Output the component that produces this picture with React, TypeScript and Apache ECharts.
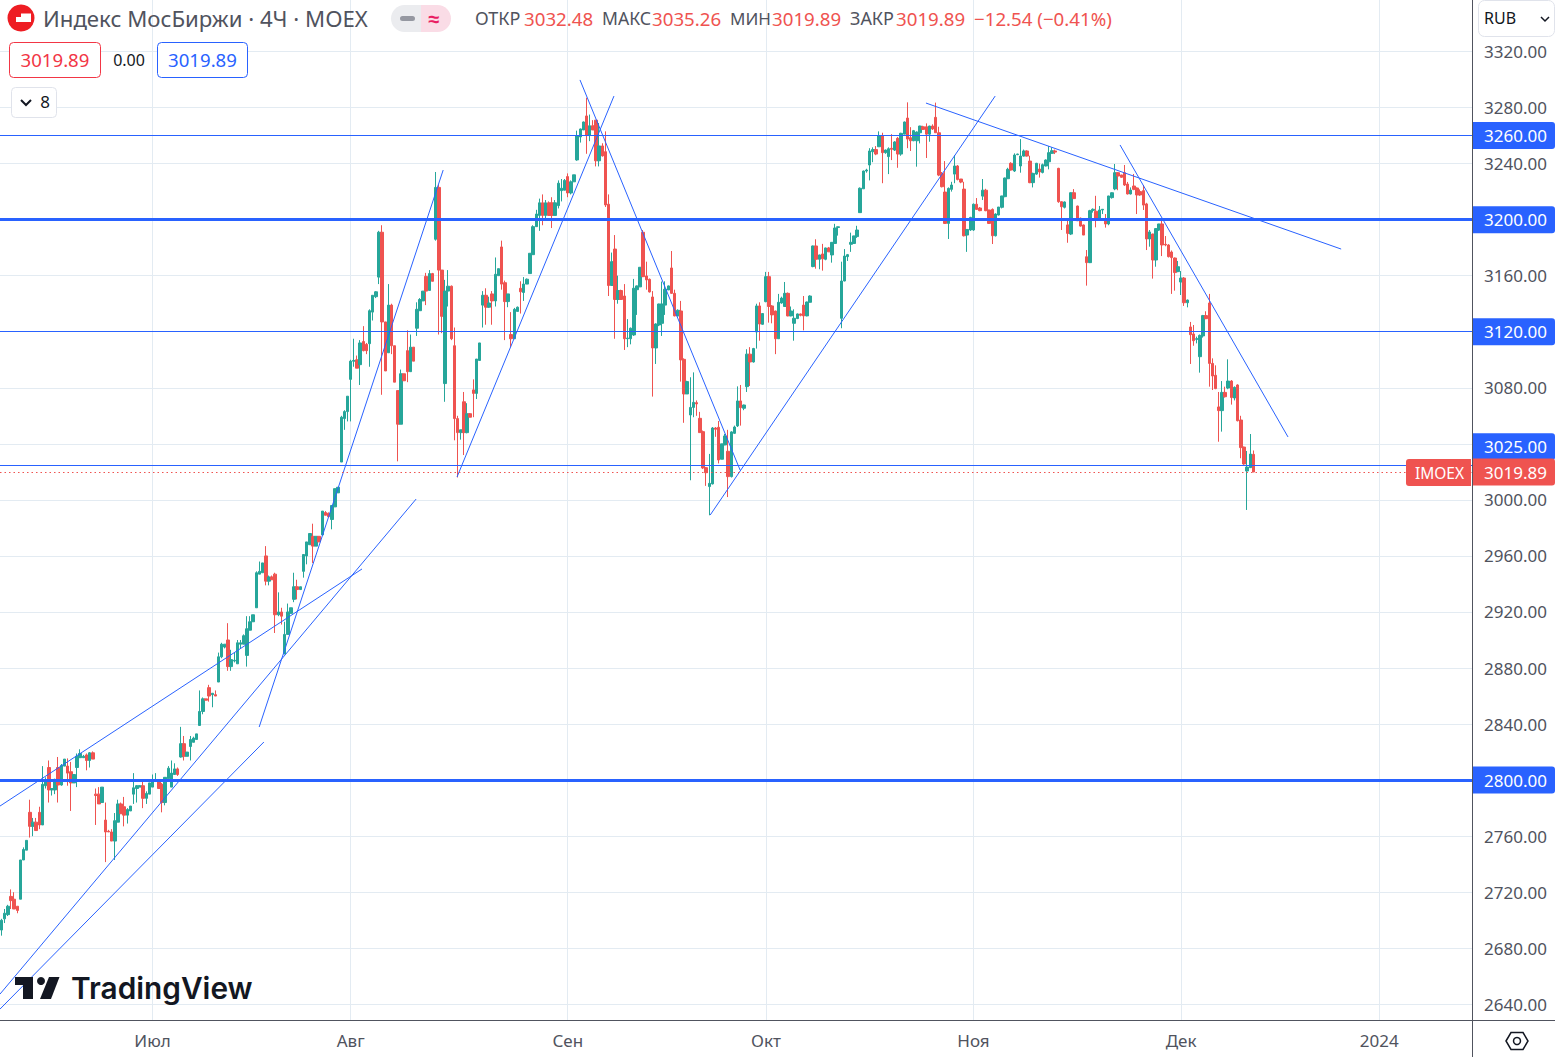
import React, { useEffect, useRef } from "react";
import * as echarts from "echarts";

// [open, close, low, high]
const juneCandles = [
[2693,2700,2689,2701],[2701,2705,2698,2708],[2704,2710,2703,2711],[2717,2714,2708,2722],[2715,2708,2708,2720],[2710,2707,2705,2710],[2715,2743,2715,2743],[2743,2750.5,2743,2752],[2750,2757,2750,2757],[2777,2767,2759,2786],
[2767,2770,2760,2773],[2770,2764,2764,2773],[2777,2768,2765,2781],[2768,2797,2768,2810],[2796,2800,2794,2802],[2809,2793,2784,2814],[2793,2794,2789,2794],[2793,2800.5,2790,2801],[2809,2796.5,2784,2816.5],[2796.5,2810.5,2796,2811.5],
[2810,2815,2810,2815],[2810,2805,2796,2815.5],[2806,2798,2778,2813],[2798,2804,2798,2804],[2809,2817,2795,2819],[2816,2819,2816,2822],[2816,2817,2816,2818],[2818,2814,2807,2819],[2814,2819.5,2809,2820],[2819.5,2815,2815,2820.5],
[2790,2789,2768,2794],[2790,2783,2783,2795],[2784,2795,2784,2795],[2771.5,2763,2741.5,2784],[2763.5,2763,2763,2764.5],[2763,2756.5,2756.5,2765],[2756.5,2771,2743,2776.5],[2770,2783,2770,2786],[2783,2776,2776,2784],[2781,2775,2767,2788],
[2775,2779,2769,2780],[2778,2781.5,2778,2781.5],[2790,2794.5,2783,2805],[2794,2796,2784,2796.5],[2795,2796,2795,2796.5],[2796,2787,2780,2800],[2787,2790.5,2783,2792],[2790,2798,2790,2798],
];
const julyCandles = [
[2795,2799,2795,2804],[2799,2800,2799,2805],[2800,2794,2794,2800],[2797,2784,2777,2798],[2784,2802,2782,2802],[2801,2808.5,2801,2810],[2795,2805,2795,2814],[2804,2808,2804,2812],[2808,2804,2803,2809],[2816.5,2826,2816,2838],
[2826,2817,2814,2831.5],[2817,2820,2817,2820],[2824,2829,2814,2831.5],[2827,2830,2827,2831],[2829,2833,2829,2833],[2839,2849,2839,2864],[2849,2858,2847,2859],[2858,2857,2857,2858],[2866,2860,2856,2868],[2861,2862,2852,2862],
[2861,2860,2860,2864],[2870,2888,2870,2891],[2888,2897,2887,2898],[2895,2897,2894,2897],[2900,2881,2878,2912],[2881,2886,2878,2893],[2885,2885.5,2884,2891],[2883,2898,2883,2900],[2897,2898,2894,2900],[2897,2903,2897,2904],
[2889,2908,2881,2917],[2907,2913,2907,2917],[2913,2918,2913,2918],[2923,2948,2923,2949],[2947,2949,2947,2956],[2948,2955,2948,2955],[2960,2942,2939,2967],[2942,2945,2939,2946],[2945,2943,2943,2946],[2947,2918,2905,2948],
[2918,2920,2917,2934],[2920,2917,2911,2923],[2890,2904,2890,2913],[2904,2920,2904,2926],[2919,2923,2919,2923],[2929,2938,2927,2948],[2938,2936,2929,2943],[2936,2938,2936,2938],[2949,2961,2944.5,2961],[2960,2970,2954,2970],
[2968,2976,2968,2976],[2974,2967,2955,2983],[2967,2974,2967,2974],[2974,2970,2970,2974],[2975,2992,2975,2992],[2991,2989,2989,2992],[2990.5,2988,2988,2991],[2986,2996,2979,2996],[2995,3008,2995,3008],[3005,3009,3005,3009],
[3027,3059,3027,3060],[3058,3063,3050,3064],[3063,3074,3056,3074],
];
const augustCandles = [
[3086,3099,3056,3100],[3099,3099.5,3095,3115],[3100,3094,3094,3103],[3096.5,3112,3082,3114],[3113,3106.5,3106,3124],[3111,3106.5,3104,3112],[3111.5,3135,3095,3136],[3134,3146,3128,3146],[3145,3148.5,3144,3149],[3159,3191,3154,3192],
[3191,3127,3075,3196],[3127,3092,3092,3127],[3105,3139,3105,3154],[3139,3110,3104,3140],[3110,3084,3084,3110],[3078,3054,3027.5,3078],[3054,3090,3054,3093],[3090,3085,3085,3090],[3106.5,3091.5,3084,3121],[3091.5,3109,3091.5,3118],
[3109,3099,3099,3109],[3122.5,3136,3117,3141],[3135,3143,3135,3144],[3142,3149,3142,3149],[3159.5,3149,3139,3162],[3149.5,3161.5,3149.5,3164],[3161.5,3156,3156,3162],[3186,3223,3185,3234],[3223,3164,3118,3225],[3164,3131,3119,3164],
[3083,3149,3070,3157],[3149,3152.5,3138,3164],[3152.5,3115,3114,3153],[3110,3058,3042.5,3123],[3058,3048,3016,3060],[3048,3050,3043,3050],[3070,3048,3032,3077],[3048,3061.5,3047.5,3069],[3061.5,3059,3059,3062],[3078.5,3076,3059,3086],
[3076,3100.5,3072,3100.5],[3099.5,3112,3099.5,3112],[3139,3146,3123,3149],[3146,3137.5,3125,3151],[3137.5,3140.5,3137,3145],[3147,3142,3125,3149],[3142,3161,3138,3173],[3160,3165,3160,3165],[3180.5,3154,3150,3185],[3155,3141.5,3114,3156.5],
[3141.5,3147,3137.5,3147],[3118,3115,3109,3134],[3115,3136,3115,3137],[3134.5,3137.5,3134.5,3138],[3151,3148.5,3133,3156],[3148,3154,3142,3159],[3154,3157.5,3154,3158],[3161.5,3176,3161.5,3176],[3175,3195,3175,3196],[3195,3204,3195,3207],
[3203,3212,3192,3215],[3212,3203,3196,3218],[3203,3212,3201,3214],[3212,3203,3203,3213],[3212,3203,3194,3216],[3203,3212,3203,3214],[3210,3226,3208,3228],[3220.7,3222.4,3213,3229],[3221,3228,3221,3229],
];
const septemberCandles = [
[3230.7,3219,3216,3233],[3219,3227,3218,3228],[3227,3232,3227,3232],[3242.6,3260,3242,3263.5],[3259,3264.7,3255,3265],[3264,3269.7,3264,3270],[3274,3260,3247,3287],[3260,3267,3256,3275],[3267,3264,3264,3271],[3271,3242,3238,3271],
[3242,3252.6,3238,3269],[3252.6,3245.5,3245,3254.5],[3248.5,3210.5,3209,3263],[3211,3153,3145.5,3218],[3153,3170,3153,3176.5],[3179,3143,3115,3189],[3143,3149.4,3140,3160],[3149.4,3143,3143,3150],[3145.5,3115,3107,3154],[3115,3115.5,3109,3129],
[3115,3122.5,3111,3123],[3117.7,3151,3117,3157.7],[3150,3152.7,3132,3153],[3152,3166,3152,3166],[3191,3159.3,3159,3192.6],[3159.8,3157,3150,3170],[3157.4,3148.4,3148,3158],[3144.8,3108.4,3073.7,3149],[3108.4,3125.5,3097,3126],[3124.8,3139.8,3124,3140],
[3126,3139.8,3117,3155.8],[3139,3150.3,3132,3156],[3149.8,3152.7,3149.8,3153],[3165.5,3147.4,3147,3177.6],[3147.4,3131.3,3131,3150],[3131.3,3135.3,3131,3136],[3134.8,3099.9,3084.4,3142],[3100.3,3075.6,3055,3101],[3075.6,3084.4,3075.6,3085],[3060.6,3066,3014,3087.5],
[3066,3069.6,3059,3091],[3069.4,3068.5,3060,3071],[3058.2,3048,3048,3062.8],[3048.7,3022.8,3022,3049.5],[3023,3019.4,3010,3023.5],[3009.5,3011.8,2989,3032.8],[3011.4,3051.3,3011,3052],[3051.3,3050.4,3045,3052],[3051.8,3028.5,3026,3056.3],[3029,3040,3029,3040],
[3039.2,3045.6,3039,3047],[3034.7,3016.6,3002,3050],[3016.6,3048.5,3016,3049],[3047.5,3052,3047,3053],[3052.8,3070.6,3052,3081],[3070.6,3065.8,3053,3082],[3065.4,3067.7,3064,3068],[3080.8,3104,3077,3107.5],[3104,3098.4,3081.3,3109],[3098.4,3108,3098,3108.5],
[3119.8,3138.4,3108,3140],[3138.4,3125.5,3113.6,3141],[3125.3,3133,3125,3133],
];
const octoberCandles = [
[3141.5,3159.3,3141,3162.7],[3159.3,3138,3126.5,3162.7],[3138.4,3132,3126,3139],[3134.8,3115,3104,3135],[3115,3141,3115,3147],[3140.5,3144,3140,3145],[3138,3147.4,3138,3155.5],[3147.4,3131.3,3131,3148],[3131.3,3134.8,3131,3138],[3126,3129.6,3113.6,3136],
[3129.4,3132.7,3129,3133],[3132.7,3131.7,3131,3133],[3139,3131.3,3121,3145.5],[3131.3,3141.2,3131,3141.5],[3141,3145.5,3141,3146],[3166.5,3181.2,3166,3181.5],[3181.2,3171.7,3165,3186],[3171.7,3174.8,3164.6,3175],[3175.5,3172,3163.6,3182.7],[3171.7,3179.8,3171,3180],
[3179.8,3177,3177,3180.5],[3174.8,3183.8,3169.3,3184],[3183,3194,3183,3197],[3194.4,3194.9,3188.6,3195],[3129.6,3156.2,3122.5,3170],[3156.2,3174,3156,3179],[3173.6,3175,3170.5,3175.5],[3182.4,3183.8,3177,3190.7],[3183,3188.4,3183,3188.5],[3187.9,3192.6,3187,3195.6],
[3205,3222.4,3205,3223],[3222,3234.7,3222,3235],[3234.7,3235.4,3233.5,3236.3],[3239,3249,3228,3251],[3248.5,3250,3241,3251.6],[3250,3246.8,3246,3252.5],[3252,3260,3252,3263],[3260,3247.8,3226,3262],[3247.8,3249.7,3247,3250],[3245,3250.6,3232.5,3251.6],
[3250.9,3250.2,3242.5,3261],[3249.7,3255.4,3249,3256],[3258,3246.8,3237,3259],[3246.8,3261.6,3245.6,3262],[3261,3269.7,3261,3270],[3272.5,3257.5,3251,3283.7],[3258.5,3256.3,3249,3266],[3256.3,3263.5,3256,3264],[3256.3,3262.5,3237.8,3263],[3262,3266.8,3254.4,3267],
[3266.3,3264.4,3264,3267],[3266.3,3261,3244,3268.7],[3261,3266.8,3255.6,3267],[3266.8,3264.7,3264,3268],[3273,3262,3262,3283.5],[3262,3231.8,3231,3266.3],[3233,3223.5,3223,3234],[3219.7,3197.3,3197,3241.8],[3197.3,3222.3,3186.2,3223],[3221.6,3224.7,3220,3227],
[3232.5,3238.3,3226,3246],[3238.3,3228.7,3228,3239],[3229,3226.8,3226,3229],[3221.8,3188.5,3188,3227],[3189,3193,3177,3193],[3192.6,3201.6,3192,3202],
];
const novemberCandles = [
[3192.6,3211,3192,3211.5],[3211,3207.3,3207,3215.4],[3208.3,3206.4,3206,3209],[3216.8,3221,3214,3229],[3221,3206.4,3206,3222],[3206.9,3197.3,3197,3207],[3207.3,3188.5,3182.6,3208],[3188.5,3204,3188,3204.5],[3203.3,3209,3203,3209],[3208.8,3216.9,3208,3217],
[3216.4,3229.7,3216,3230],[3229.2,3235.9,3229,3237],[3240.2,3235.4,3235,3241],[3234.7,3246.1,3234,3247.3],[3246.4,3246.8,3246,3247],[3238.3,3245.4,3233.5,3257.5],[3245.4,3249,3245,3250],[3249,3245.4,3245,3249.5],[3241.8,3226.4,3226,3245.6],[3226.4,3233,3223,3233.5],
[3232.5,3240.2,3232,3240.5],[3236.1,3234,3230,3240],[3233.7,3239.2,3233,3240],[3238.3,3242.5,3238,3243],[3241.3,3247.8,3235.9,3252.5],[3247.3,3249.2,3247,3251.6],[3249,3248.2,3246.8,3250],[3236.6,3212.8,3212,3237],[3212.8,3209.2,3192.6,3213],[3208.8,3212.6,3208,3213],
[3196.2,3190.2,3183.5,3200],[3189.7,3219.2,3189,3219.5],[3219.2,3215,3215,3221.8],[3209.7,3199.2,3199,3210],[3201,3195.4,3195,3201.5],[3196.2,3189,3189,3196.5],[3173.5,3169.3,3152.9,3178.3],[3169.3,3206.4,3169,3207],[3206.6,3207.4,3205,3208],[3206,3199.7,3194.5,3217],
[3200.2,3206.9,3200,3209.7],[3206.9,3207.4,3204,3207.5],[3199,3196.9,3194.3,3204],[3196.9,3216.9,3196,3217],[3215.7,3219.2,3215,3219.5],[3221.9,3233.5,3221,3239.7],[3233.5,3231.1,3221,3234],[3231.9,3230.2,3230,3232],[3233.5,3224.7,3224,3239],[3225.4,3218.3,3218,3226.9],
[3218.3,3221.1,3218,3223],[3224,3221.6,3221,3232.6],[3222.6,3217.6,3204,3223],[3220,3217.6,3217,3221.6],[3220.7,3210.4,3206.9,3224.7],[3211.2,3186.2,3178.3,3212],[3186.2,3191.2,3180.7,3192.6],[3189.7,3171.2,3157.9,3190],[3171.2,3193.6,3166.4,3194],[3192.6,3196.9,3192,3197],
[3196.9,3181.9,3174,3201],[3182.4,3181.9,3181,3188.3],[3181.9,3173.6,3173,3182.5],[3176.9,3172.9,3147,3178],[3172.6,3162.2,3149.3,3173],[3162.9,3166.4,3162.5,3170.5],
];
const decemberCandles = [
[3155.5,3158.3,3146.2,3163.3],[3158.3,3140.7,3138.4,3159],[3140.7,3142.6,3137.4,3143],[3123.4,3117.9,3097,3127],[3118.4,3113.6,3110,3124.8],[3114.6,3115,3111.7,3116.5],[3102.2,3117.4,3090.8,3118],[3117,3131.5,3115.8,3132],[3131.5,3129.3,3129,3134.6],[3140.5,3097.4,3080.8,3147],
[3097.4,3088.4,3078.4,3101],[3088.9,3079.4,3079,3096],[3066.3,3063.7,3041.5,3077],[3063.7,3076.7,3048.7,3084.8],[3076.7,3073.6,3073,3080.8],[3079.8,3084.8,3079,3100.3],[3084.8,3073,3068,3085.5],[3072.7,3080.3,3071,3081],[3082,3056.5,3056,3082.5],[3057,3037.3,3029.7,3060],
[3037.7,3025.6,3025,3038],[3020.6,3023.4,2992.8,3034.9],[3023,3032.7,3022.8,3047],[3032.48,3019.89,3019.89,3035.26],
];

const yTicks = [2640,2680,2720,2760,2800,2840,2880,2920,2960,3000,3040,3080,3120,3160,3200,3240,3280,3320];
const yTickLabels = [2640,2680,2720,2760,2840,2880,2920,2960,3000,3080,3160,3240,3280,3320];
const monthLabels: Record<number, string> = { 48: "Июл", 111: "Авг", 180: "Сен", 243: "Окт", 309: "Ноя", 375: "Дек", 438: "2024" };
const SLOTS = 468;

// [bar index, price, bar index, price]
const trendLines = [
  [-0.5, 2781.5, 114.6, 2950.7],
  [-0.5, 2647.3, 131.8, 3000.6],
  [-0.5, 2636.6, 83.4, 2827.2],
  [81.9, 2837.9, 140.4, 3235.4],
  [144.8, 3016.3, 194.7, 3288.2],
  [183.9, 3299.7, 234.8, 3021.3],
  [225.3, 2989.2, 315.9, 3288.2],
  [293.9, 3283.2, 425.9, 3179],
  [355.6, 3253.3, 409, 3044.9],
];
const thinLevels = [3260, 3120];
const thickLevels = [3200, 2800];
const supportLevel = 3025;
const lastClose = 3019.89;

const UP = "#26a69a";
const DOWN = "#ef5350";
const BLUE = "#2962ff";
const TEXT = "#50535e";
const FONT = '"Noto Sans", sans-serif';
const font = (size: number, weight = 400, family = FONT) => `${weight} ${size}px ${family}`;

const txt = (text: string, x: number, y: number, fill: string, f: string, align = "left") => ({
  type: "text", silent: true, z: 20,
  style: { text, x, y, fill, font: f, align, verticalAlign: "middle" },
});
const box = (x: number, y: number, w: number, h: number, r: any, fill: string, stroke?: string) => ({
  type: "rect", silent: true, z: 19,
  shape: { x, y, width: w, height: h, r },
  style: { fill, stroke: stroke || "none", lineWidth: stroke ? 1 : 0 },
});

export default function App() {
  const ref = useRef<HTMLDivElement>(null);
  useEffect(() => {
    document.body.style.margin = "0";
    const chart = echarts.init(ref.current!, null, { renderer: "svg" });
    const candles = [...juneCandles, ...julyCandles, ...augustCandles, ...septemberCandles, ...octoberCandles, ...novemberCandles, ...decemberCandles];
    const categories = Array.from({ length: SLOTS }, (_, i) => String(i));
    const tag = (color: string, offset?: number[]) => ({
      show: true, position: "end", distance: 0,
      formatter: (p: any) => Number(p.value).toFixed(2),
      color: "#fff", backgroundColor: color, fontFamily: "Noto Sans", fontSize: 17,
      lineHeight: 17, padding: [5, 10, 5, 12], width: 61, align: "left",
      borderRadius: [0, 3, 3, 0], offset,
    });
    const levelItem = (v: number, w: number, color: string, type: any = "solid", label: any = tag(color)) => ({
      yAxis: v, lineStyle: { width: w, color, type }, label,
    });
    const option: any = {
      animation: false,
      backgroundColor: "#ffffff",
      grid: { left: 0, right: 83, top: 0, bottom: 37, containLabel: false },
      xAxis: [
        {
          type: "category", data: categories, boundaryGap: true,
          axisLine: { show: false }, axisTick: { show: false },
          axisLabel: {
            interval: (i: number) => monthLabels[i] !== undefined,
            formatter: (_: string, i: number) => monthLabels[i] || "",
            color: TEXT, fontFamily: "Noto Sans", fontSize: 17, margin: 12,
          },
          splitLine: {
            show: true, alignWithLabel: true,
            interval: (i: number) => monthLabels[i] !== undefined,
            lineStyle: { color: "#e3ebf2", width: 1 },
          },
        },
        { type: "value", show: false, min: -0.5, max: SLOTS - 0.5, splitLine: { show: false } },
      ],
      yAxis: {
        type: "value", position: "right", min: 2628.8, max: 3356.75, scale: true,
        axisLine: { show: false },
        axisTick: { show: false, customValues: yTicks },
        axisLabel: { customValues: yTickLabels, formatter: (v: number) => v.toFixed(2), color: TEXT, fontFamily: "Noto Sans", fontSize: 17, margin: 12 },
        splitLine: { show: true, lineStyle: { color: "#e3ebf2", width: 1 } },
      },
      series: [
        {
          type: "candlestick", xAxisIndex: 0, data: candles, barWidth: 3, silent: true, z: 3,
          itemStyle: { color: UP, color0: DOWN, borderColor: UP, borderColor0: DOWN, borderWidth: 1 },
          markLine: {
            silent: true, symbol: "none", animation: false, z: 6,
            data: [
              ...thinLevels.map((v) => levelItem(v, 1, BLUE)),
              ...thickLevels.map((v) => levelItem(v, 3, BLUE)),
              levelItem(supportLevel, 1, BLUE, "solid", tag(BLUE, [0, -18])),
              levelItem(lastClose, 1, DOWN, [1.5, 3], tag(DOWN)),
            ],
          },
        },
        ...trendLines.map((t) => ({
          type: "line", xAxisIndex: 1, silent: true, z: 5, symbol: "none", clip: true,
          data: [[t[0], t[1]], [t[2], t[3]]],
          lineStyle: { color: BLUE, width: 1 },
        })),
      ],
      graphic: [
        { type: "line", silent: true, z: 18, shape: { x1: 1472.5, y1: 0, x2: 1472.5, y2: 1057 }, style: { stroke: TEXT, lineWidth: 1 } },
        { type: "line", silent: true, z: 18, shape: { x1: 0, y1: 1020.5, x2: 1555, y2: 1020.5 }, style: { stroke: TEXT, lineWidth: 1 } },
        // header symbol
        { type: "circle", silent: true, z: 20, shape: { cx: 21, cy: 18, r: 13.5 }, style: { fill: "#ee1d23" } },
        { type: "polygon", silent: true, z: 21, shape: { points: [[16, 17], [21, 17], [21, 13.5], [31, 13.5], [31, 22], [16, 22]] }, style: { fill: "#fff" } },
        txt("Индекс МосБиржи · 4Ч · MOEX", 43, 18, "#50535e", font(22.2)),
        box(391, 5, 36, 27, [13.5, 0, 0, 13.5], "#ebecef"),
        box(421, 5, 30, 27, [0, 13.5, 13.5, 0], "#fadce6"),
        box(400, 16, 15, 5, 2.5, "#9598a1"),
        txt("≈", 434, 18, "#e91e63", font(20, 700), "center"),
        txt("ОТКР", 475, 18, TEXT, font(18)),
        txt("3032.48", 524, 18, DOWN, font(18.7)),
        txt("МАКС", 602, 18, TEXT, font(17.6)),
        txt("3035.26", 652, 18, DOWN, font(18.7)),
        txt("МИН", 730, 18, TEXT, font(17)),
        txt("3019.89", 772, 18, DOWN, font(18.7)),
        txt("ЗАКР", 850, 18, TEXT, font(18)),
        txt("3019.89", 896, 18, DOWN, font(18.7)),
        txt("−12.54 (−0.41%)", 974, 18, DOWN, font(18.7)),
        box(9.5, 42.5, 91, 35, 4, "#fff", "#f23645"),
        txt("3019.89", 55, 59.5, "#f23645", font(18.6), "center"),
        txt("0.00", 129, 59.5, "#131722", font(16), "center"),
        box(157.5, 42.5, 90, 35, 4, "#fff", BLUE),
        txt("3019.89", 202.5, 59.5, BLUE, font(18.6), "center"),
        box(11.5, 87.5, 45, 30, 4, "#fff", "#e0e3eb"),
        { type: "polyline", silent: true, z: 21, shape: { points: [[21, 100], [26, 105], [31, 100]] }, style: { stroke: "#131722", lineWidth: 2, fill: "none" } },
        txt("8", 45, 101.5, "#131722", font(17), "center"),
        // currency
        box(1478.5, 0.5, 76, 36, 6, "#fff", "#e0e3eb"),
        txt("RUB", 1484, 18, "#131722", font(16)),
        { type: "polyline", silent: true, z: 21, shape: { points: [[1541, 17], [1545, 21], [1549, 17]] }, style: { stroke: "#131722", lineWidth: 1.5, fill: "none" } },
        // price source tag
        box(1406, 459, 65, 27, [3, 0, 0, 3], DOWN),
        txt("IMOEX", 1439.5, 472.5, "#fff", font(15.5), "center"),
        // settings icon
        { type: "polygon", silent: true, z: 20, shape: { points: [[1506, 1041], [1511, 1032.5], [1523, 1032.5], [1528, 1041], [1523, 1049.5], [1511, 1049.5]] }, style: { fill: "none", stroke: "#131722", lineWidth: 1.5 } },
        { type: "circle", silent: true, z: 20, shape: { cx: 1517, cy: 1041, r: 3.5 }, style: { fill: "none", stroke: "#131722", lineWidth: 1.5 } },
        // watermark
        { type: "polygon", silent: true, z: 20, shape: { points: [[15, 977], [33, 977], [33, 999], [23, 999], [23, 985], [15, 985]] }, style: { fill: "#131722" } },
        { type: "circle", silent: true, z: 20, shape: { cx: 41, cy: 981, r: 4 }, style: { fill: "#131722" } },
        { type: "polygon", silent: true, z: 20, shape: { points: [[49, 977], [59.5, 977], [51, 999], [40, 999]] }, style: { fill: "#131722" } },
        txt("TradingView", 71, 988, "#131722", font(29.8, 600, "Inter, sans-serif")),
      ],
    };
    chart.setOption(option);
    return () => chart.dispose();
  }, []);
  return <div ref={ref} style={{ position: "fixed", left: 0, top: 0, width: 1555, height: 1057 }} />;
}
